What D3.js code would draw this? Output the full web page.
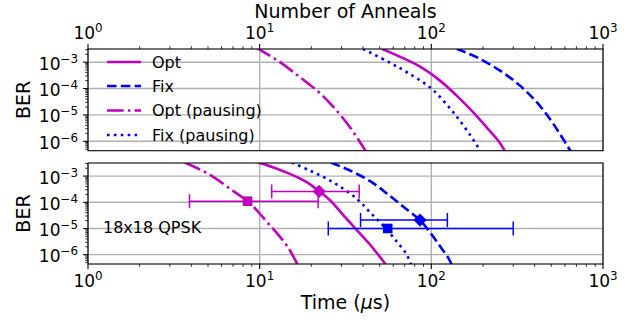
<!DOCTYPE html>
<html><head><meta charset="utf-8">
<script src="https://cdn.jsdelivr.net/npm/d3@7"></script>
<style>body{margin:0;background:#fff}svg{display:block}text{font-family:"DejaVu Sans",sans-serif;fill:#000}</style>
</head><body><svg id="c" width="638" height="320"></svg>
<script>
// ---------- data ----------
const xTickValues = [1, 10, 100, 1000];
const yTickValues = [1e-3, 1e-4, 1e-5, 1e-6];
const xTickExp = ["0", "1", "2", "3"];
const yTickExp = ["\u22123", "\u22124", "\u22125", "\u22126"];
const seriesNames = ["Opt", "Fix", "Opt (pausing)", "Fix (pausing)"];

// top panel: BER vs number of anneals
const annOpt      = [51.4, 85.9, 112.3, 140.5, 175.5, 210, 245.5, 267.5];
const berOptA     = [3.2e-3, 6.8e-4, 2.0e-4, 5.4e-5, 1.26e-5, 3.4e-6, 1.05e-6, 4.4e-7];
const annFix      = [140.5, 183.7, 251, 328.6, 411, 491, 561, 628, 660];
const berFixA     = [3.2e-3, 1.55e-3, 4.8e-4, 1.29e-4, 3.03e-5, 7.0e-6, 1.89e-6, 5.9e-7, 3.6e-7];
const annOptP     = [9.5, 10.05, 13.13, 17.18, 22.46, 28.1, 33.6, 39.3, 41.6];
const berOptPA    = [3.6e-3, 2.93e-3, 1e-3, 2.69e-4, 6.65e-5, 1.45e-5, 3.4e-6, 7.4e-7, 4.1e-7];
const annFixP     = [40, 56.6, 71.9, 100, 138, 178, 194.7];
const berFixPA    = [3.2e-3, 1e-3, 4.17e-4, 1e-4, 1e-5, 1e-6, 3.75e-7];

// bottom panel: BER vs time (us)
const tOpt        = [9.78, 10.5, 15.0, 18.8, 22.2, 25.7, 30.7, 36.7, 44.0, 52.5, 55.1];
const berOptT     = [3.3e-3, 2.92e-3, 1.22e-3, 5.9e-4, 2.62e-4, 1.2e-4, 3.25e-5, 8.8e-6, 2.39e-6, 5.6e-7, 3.7e-7];
const tFix        = [26.0, 33.6, 44.0, 55.2, 68.7, 85.9, 100.9, 113.8, 125.6, 132.7];
const berFixT     = [3.3e-3, 1.63e-3, 6.4e-4, 2.14e-4, 6.7e-5, 2.05e-5, 5.6e-6, 1.87e-6, 7.5e-7, 3.6e-7];
const tOptP       = [3.67, 5.14, 7.02, 8.52, 9.6, 11.2, 12.85, 14.7, 16.9];
const berOptPT    = [3.3e-3, 1.12e-3, 2.67e-4, 1.1e-4, 5.0e-5, 1.58e-5, 5.7e-6, 1.8e-6, 3.4e-7];
const tFixP       = [15.4, 19.6, 24.6, 30.7, 37.6, 44.0, 52.5, 62.8, 71.9, 76.2];
const berFixPT    = [3.3e-3, 1.63e-3, 7.9e-4, 3.3e-4, 1.2e-4, 4.1e-5, 1.27e-5, 3.2e-6, 1.0e-6, 4.1e-7];

// measured points with horizontal error bars (bottom panel)
const markerSeries = ["Opt (pausing)", "Opt", "Fix (pausing)", "Fix"];
const markerShape  = ["square", "diamond", "square", "diamond"];
const markerT      = [8.5, 22.2, 55.7, 85.9];
const markerBer    = [1.1e-4, 2.6e-4, 1.0e-5, 2.1e-5];
const markerTLo    = [3.9, 11.75, 25.1, 38.7];
const markerTHi    = [21.9, 38.0, 300, 124];

// ---------- styling ----------
const colorOf = {"Opt": "#bf00bf", "Opt (pausing)": "#bf00bf", "Fix": "#0000ff", "Fix (pausing)": "#0000ff"};
const LW = 2.6;
const dashOf = {"Opt": null, "Fix": `${3.7*LW},${1.6*LW}`, "Opt (pausing)": `${6.4*LW},${1.6*LW},${1*LW},${1.6*LW}`, "Fix (pausing)": `${1*LW},${1.65*LW}`};

const svg = d3.select("#c");
const X0 = 88, X1 = 603;
const panels = [{y0: 49, y1: 150.7, id: "pt"}, {y0: 163, y1: 264, id: "pb"}];
const x = d3.scaleLog().domain([1, 1000]).range([X0, X1]);
const yDom = [4.4e-7, 3.16e-3];
const yS = panels.map(p => d3.scaleLog().domain(yDom).range([p.y1, p.y0]));

const defs = svg.append("defs");
panels.forEach(p => {
  defs.append("clipPath").attr("id", "clip" + p.id).append("rect")
    .attr("x", X0).attr("y", p.y0).attr("width", X1 - X0).attr("height", p.y1 - p.y0);
});

const minorX = [];
for (let k = 0; k < 3; k++) for (let m = 2; m <= 9; m++) minorX.push(m * Math.pow(10, k));
const minorY = [];
for (let k = -7; k <= -3; k++) for (let m = 2; m <= 9; m++) { const v = m * Math.pow(10, k); if (v >= yDom[0] && v <= yDom[1]) minorY.push(v); }

function tickLabel(g, xx, yy, exp, anchor, size) {
  const t = g.append("text").attr("x", xx).attr("y", yy).attr("text-anchor", anchor).style("font-size", size + "px");
  t.append("tspan").text("10");
  t.append("tspan").attr("dy", -7).style("font-size", (size * 0.7) + "px").text(exp);
}

panels.forEach((p, i) => {
  const y = yS[i];
  const g = svg.append("g");
  g.selectAll(".gx").data(xTickValues).join("line")
    .attr("x1", d => x(d)).attr("x2", d => x(d)).attr("y1", p.y0).attr("y2", p.y1)
    .attr("stroke", "#b0b0b0").attr("stroke-width", 1.4);
  g.selectAll(".gy").data(yTickValues).join("line")
    .attr("x1", X0).attr("x2", X1).attr("y1", d => y(d)).attr("y2", d => y(d))
    .attr("stroke", "#b0b0b0").attr("stroke-width", 1.4);
  g.selectAll(".ty").data(yTickValues).join("line")
    .attr("x1", X0 - 4.9).attr("x2", X0).attr("y1", d => y(d)).attr("y2", d => y(d))
    .attr("stroke", "#000").attr("stroke-width", 1.1);
  g.selectAll(".tym").data(minorY).join("line")
    .attr("x1", X0 - 2.8).attr("x2", X0).attr("y1", d => y(d)).attr("y2", d => y(d))
    .attr("stroke", "#000").attr("stroke-width", 0.8);
  yTickValues.forEach((v, j) => tickLabel(g, 78, y(v) + 7.5, yTickExp[j], "end", 17));
  const edge = i === 0 ? p.y0 : p.y1;
  const dir = i === 0 ? -1 : 1;
  g.selectAll(".tx").data(xTickValues).join("line")
    .attr("x1", d => x(d)).attr("x2", d => x(d)).attr("y1", edge).attr("y2", edge + dir * 4.9)
    .attr("stroke", "#000").attr("stroke-width", 1.1);
  g.selectAll(".txm").data(minorX).join("line")
    .attr("x1", d => x(d)).attr("x2", d => x(d)).attr("y1", edge).attr("y2", edge + dir * 2.8)
    .attr("stroke", "#000").attr("stroke-width", 0.8);
  xTickValues.forEach((v, j) => tickLabel(g, x(v), i === 0 ? 39.3 : 286.7, xTickExp[j], "middle", 17));
  g.append("text").attr("transform", `translate(30,${(p.y0 + p.y1) / 2}) rotate(-90)`)
    .attr("text-anchor", "middle").style("font-size", "19px").text("BER");
});

// curves
const topData = [[annOpt, berOptA], [annFix, berFixA], [annOptP, berOptPA], [annFixP, berFixPA]];
const botData = [[tOpt, berOptT], [tFix, berFixT], [tOptP, berOptPT], [tFixP, berFixPT]];
[topData, botData].forEach((set, i) => {
  const y = yS[i];
  const line = d3.line().x(d => x(d[0])).y(d => y(d[1])).curve(d3.curveCatmullRom.alpha(0.5));
  const g = svg.append("g").attr("clip-path", `url(#clip${panels[i].id})`);
  set.forEach((s, j) => {
    const name = seriesNames[j];
    g.append("path").datum(s[0].map((v, k) => [v, s[1][k]]))
      .attr("d", line).attr("fill", "none").attr("stroke", colorOf[name])
      .attr("stroke-width", LW).attr("stroke-dasharray", dashOf[name]);
  });
});

// error bars + markers (bottom panel)
{
  const y = yS[1];
  const g = svg.append("g");
  markerT.forEach((t, j) => {
    const c = colorOf[markerSeries[j]];
    const yy = y(markerBer[j]);
    g.append("line").attr("x1", x(markerTLo[j])).attr("x2", x(markerTHi[j])).attr("y1", yy).attr("y2", yy)
      .attr("stroke", c).attr("stroke-width", 1.5);
    [markerTLo[j], markerTHi[j]].forEach(v => g.append("line")
      .attr("x1", x(v)).attr("x2", x(v)).attr("y1", yy - 7).attr("y2", yy + 7)
      .attr("stroke", c).attr("stroke-width", 1.5));
    const xx = x(t);
    if (markerShape[j] === "square") {
      g.append("rect").attr("x", xx - 4.8).attr("y", yy - 4.8).attr("width", 9.6).attr("height", 9.6).attr("fill", c);
    } else {
      const r = 6.6;
      g.append("path").attr("d", `M${xx},${yy - r}L${xx + r},${yy}L${xx},${yy + r}L${xx - r},${yy}Z`).attr("fill", c);
    }
  });
}

// frames
panels.forEach(p => svg.append("rect").attr("x", X0).attr("y", p.y0).attr("width", X1 - X0).attr("height", p.y1 - p.y0)
  .attr("fill", "none").attr("stroke", "#000").attr("stroke-width", 1.1));

// legend (top panel, no frame)
const legRows = [62, 86, 110.5, 135];
seriesNames.forEach((name, j) => {
  svg.append("line").attr("x1", 107).attr("x2", 141).attr("y1", legRows[j]).attr("y2", legRows[j])
    .attr("stroke", colorOf[name]).attr("stroke-width", LW).attr("stroke-dasharray", dashOf[name]);
  svg.append("text").attr("x", 152).attr("y", legRows[j] + 5.8).style("font-size", "16px").text(name);
});

// annotation
svg.append("text").attr("x", 103).attr("y", 233.3).style("font-size", "16px").text("18x18 QPSK");

// axis titles
svg.append("text").attr("x", (X0 + X1) / 2).attr("y", 18).attr("text-anchor", "middle").style("font-size", "19px").text("Number of Anneals");
const tt = svg.append("text").attr("x", (X0 + X1) / 2).attr("y", 309).attr("text-anchor", "middle").style("font-size", "19px");
tt.append("tspan").text("Time (");
tt.append("tspan").style("font-style", "italic").text("\u03bc");
tt.append("tspan").text("s)");
</script>
</body></html>
